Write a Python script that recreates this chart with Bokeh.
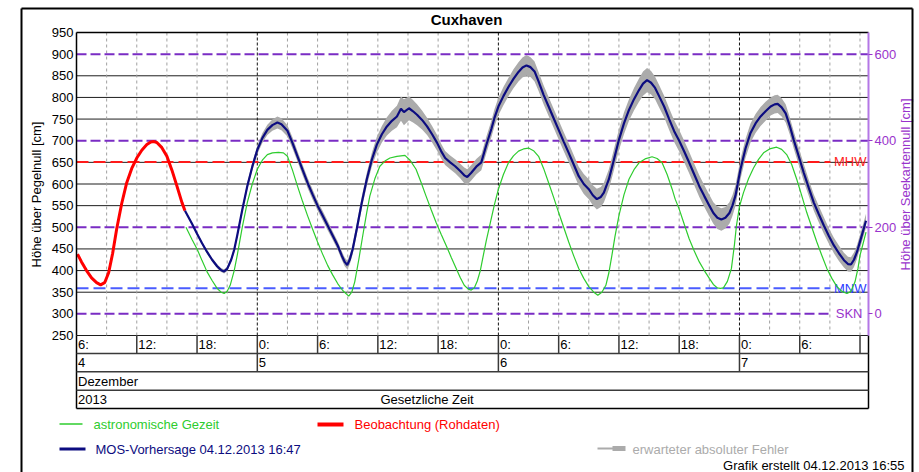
import math
from bokeh.plotting import figure
from bokeh.models import Range1d, LinearAxis, FixedTicker
from bokeh.core.properties import value
from bokeh.embed import file_html
from bokeh.resources import INLINE

# ---------------- data (hours since 04.12.2013 00:00, cm above Pegelnull) -------------
obs_h = [6.1, 6.5, 7.0, 7.5, 8.0, 8.4, 8.8, 9.2, 9.6, 10.0, 10.5, 11.0, 11.5, 12.0, 12.5,
         13.0, 13.4, 13.7, 14.0, 14.5, 15.0, 15.5, 16.0, 16.5, 16.8]
obs_cm = [438, 420, 400, 383, 372, 367, 372, 395, 440, 496, 555, 603, 636, 660, 678,
          691, 697, 698, 696, 684, 664, 632, 595, 557, 538]

mos_h = [16.8, 17.5, 18.0, 18.5, 19.0, 19.5, 20.0, 20.4, 20.7, 21.0, 21.4, 21.7, 22.0, 22.5,
         23.0, 23.5, 24.0, 24.5, 25.0, 25.5, 26.0, 26.4, 27.0, 27.5, 28.0, 28.5, 29.0, 29.5,
         30.0, 30.5, 31.0, 31.5, 32.0, 32.4, 32.7, 32.95, 33.2, 33.5, 33.9, 34.4, 34.9, 35.4,
         35.9, 36.4, 36.9, 37.4, 37.9, 38.3, 38.6, 39.1, 39.5, 39.9, 40.4, 40.9, 41.4, 41.9,
         42.3, 42.7, 43.2, 43.7, 44.2, 44.6, 44.9, 45.3, 45.8, 46.3, 46.8, 47.3, 47.6, 48.0,
         48.5, 49.0, 49.5, 50.0, 50.4, 50.8, 51.2, 51.6, 52.0, 52.5, 53.0, 53.5, 54.0, 54.5,
         55.0, 55.5, 56.0, 56.5, 57.0, 57.4, 57.8, 58.2, 58.5, 59.0, 59.5, 60.0, 60.5, 61.0,
         61.5, 62.0, 62.4, 62.8, 63.2, 63.6, 64.0, 64.5, 65.0, 65.5, 66.0, 66.5, 67.0, 67.5,
         68.0, 68.5, 69.0, 69.4, 69.8, 70.2, 70.6, 71.0, 71.3, 71.6, 72.1, 72.6, 73.1, 73.6,
         74.1, 74.6, 75.1, 75.5, 75.8, 76.2, 76.6, 77.0, 77.4, 77.9, 78.4, 78.9, 79.4, 79.9,
         80.4, 80.9, 81.4, 81.9, 82.4, 82.8, 83.1, 83.4, 83.7, 84.1, 84.6]
mos_cm = [538, 508, 485, 463, 443, 425, 410, 401, 398, 404, 425, 448, 481, 540,
          595, 640, 679, 706, 725, 736, 742, 738, 723, 695, 664, 633, 603, 576,
          550, 527, 504, 481, 458, 435, 420, 413, 425, 450, 496, 557, 611, 656,
          691, 715, 733, 746, 756, 774, 766, 775, 768, 760, 748, 733, 715, 695,
          676, 660, 650, 641, 630, 620, 616, 626, 640, 650, 690, 727, 752, 779,
          803, 824, 843, 859, 869, 874, 870, 860, 837, 806, 779, 752, 725, 698,
          672, 645, 618, 600, 588, 574, 565, 570, 580, 611, 656, 702, 740, 771,
          796, 817, 832, 840, 834, 822, 803, 779, 750, 722, 700, 675, 649, 622,
          595, 572, 550, 533, 522, 518, 522, 533, 550, 573, 634, 682, 718, 740,
          756, 768, 779, 784, 785, 777, 763, 735, 702, 664, 626, 591, 557, 530,
          504, 480, 458, 440, 424, 415, 414, 425, 443, 475, 515]
# expected absolute error (cm, +/-) for each forecast point
mos_err = [3, 3, 3.5, 3.5, 4, 4, 4.5, 4.5, 5, 5, 5.5, 6, 6.5, 7,
           8, 9, 10, 11, 12, 13, 14, 14, 13, 13, 12, 12, 12, 12,
           11, 11, 11, 10, 10, 10, 10, 10, 11, 12, 13, 14, 15, 16,
           18, 19, 21, 23, 25, 28, 30, 28, 26, 24, 22, 20, 19, 18,
           17, 16, 16, 16, 17, 18, 18, 18, 18, 18, 19, 19, 20, 20,
           21, 21, 22, 22, 23, 24, 23, 23, 22, 22, 22, 22, 22, 22,
           22, 22, 22, 23, 23, 23, 24, 23, 23, 23, 24, 24, 25, 25,
           26, 27, 28, 28, 27, 26, 26, 25, 25, 25, 25, 25, 25, 25,
           25, 25, 25, 25, 26, 26, 25, 25, 24, 24, 23, 22, 22, 22,
           22, 22, 21, 21, 21, 21, 21, 20, 20, 20, 20, 19, 19, 19,
           19, 18, 18, 18, 17, 17, 17, 17, 16, 16, 16]

astro_h = [16.9, 17.5, 18.0, 18.5, 19.0, 19.5, 20.0, 20.4, 20.7, 21.0, 21.3, 21.7, 22.0, 22.5,
           23.0, 23.5, 24.0, 24.5, 25.0, 25.5, 26.1, 26.6, 27.0, 27.5, 28.0, 28.5, 29.0, 29.5,
           30.0, 30.5, 31.0, 31.5, 32.0, 32.5, 33.1, 33.4, 33.7, 34.1, 34.5, 34.9, 35.2, 35.7,
           36.2, 36.7, 37.2, 37.9, 38.7, 39.2, 39.8, 40.3, 40.8, 41.3, 41.8, 42.3, 42.8, 43.3,
           43.8, 44.2, 44.6, 45.0, 45.3, 45.6, 45.9, 46.2, 46.5, 46.8, 47.2, 47.6, 48.0, 48.5,
           49.0, 49.5, 50.0, 50.5, 51.0, 51.5, 52.0, 52.5, 53.0, 53.5, 54.0, 54.5, 55.0, 55.5,
           56.0, 56.5, 57.0, 57.5, 57.9, 58.3, 58.7, 59.0, 59.3, 59.6, 60.0, 60.5, 61.0, 61.5,
           62.0, 62.6, 63.3, 63.8, 64.3, 64.8, 65.3, 65.6, 66.0, 66.5, 67.0, 67.5, 68.0, 68.5,
           69.0, 69.4, 69.8, 70.1, 70.4, 70.8, 71.2, 71.5, 71.7, 72.0, 72.4, 72.9, 73.4, 73.9,
           74.4, 75.0, 75.7, 76.2, 76.7, 77.2, 77.7, 78.2, 78.7, 79.2, 79.7, 80.2, 80.7, 81.2,
           81.7, 82.2, 82.7, 83.1, 83.5, 83.8, 84.0, 84.3, 84.6]
astro_cm = [500, 472, 450, 423, 397, 377, 359, 350, 347, 352, 366, 400, 435, 500,
            557, 600, 634, 655, 668, 672, 673, 672, 664, 632, 595, 560, 527, 496,
            466, 438, 412, 390, 370, 354, 341, 350, 374, 425, 481, 535, 572, 612,
            641, 653, 660, 664, 666, 655, 634, 604, 572, 541, 511, 484, 458, 431,
            405, 384, 366, 357, 355, 360, 376, 400, 435, 470, 511, 552, 588, 622,
            649, 665, 676, 681, 683, 677, 664, 636, 603, 569, 534, 500, 466, 434,
            405, 382, 363, 350, 343, 350, 366, 395, 435, 478, 527, 575, 611, 633,
            649, 658, 663, 659, 649, 622, 588, 565, 542, 507, 473, 445, 420, 400,
            382, 368, 360, 359, 360, 375, 405, 460, 504, 548, 580, 612, 637, 657,
            672, 681, 685, 680, 668, 645, 611, 573, 534, 500, 466, 435, 405, 382,
            363, 352, 347, 352, 374, 405, 435, 462, 489]

mhw_cm = 651
mnw_cm = 359
skn_cm = 300          # Seekartennull relative to Pegelnull
ref_names = ["MHW", "MNW", "SKN"]

left_ticks = [250, 300, 350, 400, 450, 500, 550, 600, 650, 700, 750, 800, 850, 900, 950]
black_grid = [250, 350, 400, 450, 550, 600, 650, 750, 800, 850]
right_ticks = [0, 200, 400, 600]
purple_grid = [200, 400, 600]
grid_3h = [9, 12, 15, 18, 21, 27, 30, 33, 36, 39, 42, 45, 51, 54, 57, 60, 63, 66, 69,
           75, 78, 81, 84]
midnights = [24, 48, 72]
hour_pos = [6, 12, 18, 24, 30, 36, 42, 48, 54, 60, 66, 72, 78]
hour_labels = ["6:", "12:", "18:", "0:", "6:", "12:", "18:", "0:", "6:", "12:", "18:", "0:", "6:"]
hour_seps = [12, 18, 24, 30, 36, 42, 48, 54, 60, 66, 72, 78, 84]
day_pos = [6, 24, 48, 72]
day_labels = ["4", "5", "6", "7"]
legend_texts = ["astronomische Gezeit", "Beobachtung (Rohdaten)",
                "MOS-Vorhersage 04.12.2013 16:47", "erwarteter absoluter Fehler"]

assert len(mos_h) == len(mos_cm) == len(mos_err)
assert len(astro_h) == len(astro_cm) and len(obs_h) == len(obs_cm)

# ---------------- layout / style -------------
FONT = "Liberation Sans"
PURPLE = "#9933cc"
PGRID = "#7a2cc4"
GREEN = "#2ecc2e"
RED = "#ff0000"
NAVY = "#0c0c80"
GREY = "#ababab"
W, H = 919, 472
PX_H = 10.045            # px per hour
PX_CM = 303 / 700        # px per cm


def hx(px):              # canvas x (px) -> hours
    return 6 + (px - 76) / PX_H


def vy(py):              # canvas y (px, from top) -> cm
    return 250 + (335 - py) / PX_CM


X0, X1 = 6.0, hx(868)
YB = vy(408)             # bottom of date table
rows = [250, vy(353), vy(371.3), vy(389.7), YB]

p = figure(width=W, height=H, x_range=Range1d(hx(0), hx(W)), y_range=Range1d(vy(H), vy(0)),
           output_backend="svg", toolbar_location=None, x_axis_location=None,
           y_axis_location=None, min_border=0, outline_line_color=None,
           background_fill_color="white", border_fill_color="white")
p.xgrid.visible = False
p.ygrid.visible = False
p.extra_y_ranges = {"skn": Range1d(vy(H) - skn_cm, vy(0) - skn_cm)}

la = LinearAxis(fixed_location=X0, bounds=(250, 950), ticker=FixedTicker(ticks=left_ticks),
                major_tick_in=0, major_tick_out=0, minor_tick_line_color=None,
                axis_line_color="black", axis_line_width=1.5,
                major_label_text_font=FONT, major_label_text_font_size="13px",
                major_label_text_color="black", major_label_standoff=3)
p.add_layout(la, "left")
ra = LinearAxis(y_range_name="skn", fixed_location=X1, bounds=(-50, 650),
                ticker=FixedTicker(ticks=right_ticks),
                axis_line_color="#b477e6", axis_line_width=2,
                major_tick_in=0, major_tick_out=4, major_tick_line_color=PURPLE,
                minor_tick_line_color=None, major_label_text_color=PURPLE,
                major_label_text_font=FONT, major_label_text_font_size="13px",
                major_label_standoff=2)
p.add_layout(ra, "right")

n = len
# horizontal grid lines
p.segment(x0=[X0] * n(black_grid), y0=black_grid, x1=[X1] * n(black_grid), y1=black_grid,
          line_color="#1e1e1e", line_width=1)
# vertical grid lines
p.segment(x0=grid_3h, y0=[250] * n(grid_3h), x1=grid_3h, y1=[950] * n(grid_3h),
          line_color="#a0a0a0", line_dash="3 3", line_width=1)
p.segment(x0=midnights, y0=[250] * 3, x1=midnights, y1=[950] * 3,
          line_color="#111111", line_dash="3 2", line_width=1)
# Seekartennull grid (right axis)
p.segment(x0=[X0] * 3, y0=purple_grid, x1=[X1] * 3, y1=purple_grid, y_range_name="skn",
          line_color=PGRID, line_dash="10 4", line_width=2)

# reference levels
ref_end = hx(830)
p.segment(x0=[X0], y0=[skn_cm], x1=[ref_end], y1=[skn_cm], line_color=PGRID,
          line_dash="10 4", line_width=2)
p.segment(x0=[X0], y0=[mnw_cm], x1=[ref_end], y1=[mnw_cm], line_color="#4a5cff",
          line_dash="12 5", line_width=2)
p.segment(x0=[X0], y0=[mhw_cm], x1=[ref_end], y1=[mhw_cm], line_color="#ff1a1a",
          line_dash="12 5", line_width=2)
p.text(x=[hx(866), hx(866), hx(862)], y=[mhw_cm, mnw_cm, skn_cm], text=ref_names,
       text_color=["#ff1a1a", "#2a3cff", PURPLE], text_font=value(FONT),
       text_font_size="13px", text_align="right", text_baseline="middle")

# curves
p.line(astro_h, astro_cm, line_color=GREEN, line_width=1.2)
p.line(obs_h, obs_cm, line_color=RED, line_width=3)
p.varea(x=mos_h, y1=[m - e for m, e in zip(mos_cm, mos_err)],
        y2=[m + e for m, e in zip(mos_cm, mos_err)], fill_color=GREY)
p.line(mos_h, mos_cm, line_color=NAVY, line_width=2.2)

# plot frame and date table
TAB = "#3a3a3a"
p.segment(x0=[X0, X0, X1, X0], y0=[950, YB, YB, YB], x1=[X1, X0, X1, X1],
          y1=[950, 250, 250, YB], line_color="black", line_width=1.5)
p.segment(x0=[X0] * 3, y0=rows[1:4], x1=[X1] * 3, y1=rows[1:4], line_color=TAB,
          line_width=1.5)
p.segment(x0=hour_seps, y0=[rows[1]] * n(hour_seps), x1=hour_seps,
          y1=[rows[0]] * n(hour_seps), line_color=TAB, line_width=1.5)
p.segment(x0=midnights, y0=[rows[2]] * 3, x1=midnights, y1=[rows[1]] * 3,
          line_color=TAB, line_width=1.5)
tk = dict(text_font=value(FONT), text_font_size="13px", text_baseline="middle",
          text_align="left", text_color="black")
p.text(x=[h + 0.15 for h in hour_pos], y=[(rows[0] + rows[1]) / 2] * n(hour_pos),
       text=hour_labels, **tk)
p.text(x=[h + 0.15 for h in day_pos], y=[(rows[1] + rows[2]) / 2] * n(day_pos),
       text=day_labels, **tk)
p.text(x=[X0 + 0.15], y=[(rows[2] + rows[3]) / 2], text=["Dezember"], **tk)
p.text(x=[X0 + 0.15, hx(380)], y=[(rows[3] + rows[4]) / 2] * 2,
       text=["2013", "Gesetzliche Zeit"], **tk)

# title and axis titles
p.text(x=[hx(466)], y=[vy(19)], text=["Cuxhaven"], text_font=value(FONT),
       text_font_size="15px", text_font_style="bold", text_align="center",
       text_baseline="middle", text_color="black")
p.text(x=[hx(36)], y=[vy(194)], text=["Höhe über Pegelnull [cm]"], angle=math.pi / 2,
       text_font=value(FONT), text_font_size="13px", text_align="center",
       text_baseline="middle", text_color="black")
p.text(x=[hx(905)], y=[vy(184)], text=["Höhe über Seekartennull [cm]"], angle=math.pi / 2,
       text_font=value(FONT), text_font_size="13px", text_align="center",
       text_baseline="middle", text_color=PURPLE)

# legend
p.segment(x0=[hx(59)], y0=[vy(423.5)], x1=[hx(82)], y1=[vy(423.5)], line_color=GREEN,
          line_width=1.5)
p.segment(x0=[hx(317)], y0=[vy(424)], x1=[hx(343)], y1=[vy(424)], line_color=RED,
          line_width=4)
p.segment(x0=[hx(59)], y0=[vy(448.5)], x1=[hx(85)], y1=[vy(448.5)], line_color=NAVY,
          line_width=3)
p.segment(x0=[hx(597)], y0=[vy(448)], x1=[hx(613)], y1=[vy(448)], line_color=GREY,
          line_width=2)
p.segment(x0=[hx(612)], y0=[vy(448)], x1=[hx(625)], y1=[vy(448)], line_color=GREY,
          line_width=5)
p.text(x=[hx(93), hx(354), hx(95), hx(632)], y=[vy(424), vy(424), vy(449), vy(449)],
       text=legend_texts, text_color=[GREEN, RED, NAVY, GREY], text_font=value(FONT),
       text_font_size="13px", text_align="left", text_baseline="middle")
p.text(x=[hx(904)], y=[vy(465)], text=["Grafik erstellt 04.12.2013 16:55"],
       text_font=value(FONT), text_font_size="13px", text_align="right",
       text_baseline="middle", text_color="black")

# outer frame of the graphic
p.segment(x0=[hx(21), hx(21), hx(912)], y0=[vy(8), vy(8), vy(8)],
          x1=[hx(912), hx(21), hx(912)], y1=[vy(8), vy(490), vy(490)],
          line_color="black", line_width=2)

open("out.html", "w").write(file_html(p, INLINE))
